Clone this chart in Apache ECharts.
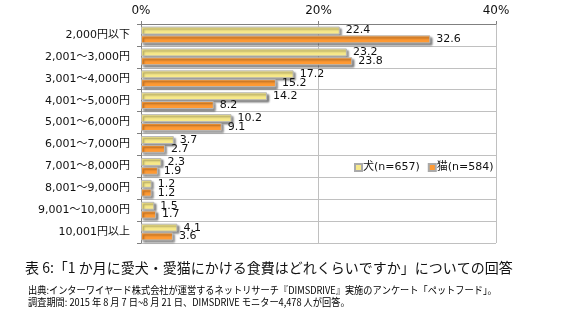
<!DOCTYPE html>
<html>
<head>
<meta charset="utf-8">
<script src="https://cdn.jsdelivr.net/npm/echarts@6/dist/echarts.min.js"></script>
<style>
html, body { margin: 0; padding: 0; background: #fff; }
#main { width: 561px; height: 323px; }
</style>
</head>
<body>
<div id="main"></div>
<script>
// 金額帯
var categories = ['2,000円以下', '2,001～3,000円', '3,001～4,000円', '4,001～5,000円', '5,001～6,000円',
    '6,001～7,000円', '7,001～8,000円', '8,001～9,000円', '9,001～10,000円', '10,001円以上'];
var dogData = [22.4, 23.2, 17.2, 14.2, 10.2, 3.7, 2.3, 1.2, 1.5, 4.1];
var catData = [32.6, 23.8, 15.2, 8.2, 9.1, 2.7, 1.9, 1.2, 1.7, 3.6];
var seriesNames = ['犬(n=657)', '猫(n=584)'];
var xTicks = [0, 20, 40];

var titleText = '表 6:「1 か月に愛犬・愛猫にかける食費はどれくらいですか」についての回答';
var note1 = '出典:インターワイヤード株式会社が運営するネットリサーチ『DIMSDRIVE』実施のアンケート「ペットフード」。';
var note2 = '調査期間: 2015 年 8 月 7 日~8 月 21 日、DIMSDRIVE モニター4,478 人が回答。';

var FONT = 'DejaVu Sans, Noto Sans CJK JP, sans-serif';
var myChart = echarts.init(document.getElementById('main'));

function barStyle(color) {
    return {
        color: color,
        borderColor: '#b8b8b8',
        borderWidth: 1,
        shadowColor: 'rgba(0,0,0,0.45)',
        shadowBlur: 2,
        shadowOffsetX: 2,
        shadowOffsetY: 2
    };
}

var labelStyle = {
    show: true,
    position: 'right',
    distance: 6,
    fontSize: 11,
    fontFamily: FONT,
    color: '#111'
};

var option = {
    animation: false,
    textStyle: { fontFamily: FONT },
    grid: { left: 141, right: 65, top: 24, height: 219 },
    legend: {
        left: 349,
        top: 157,
        itemWidth: 7,
        itemHeight: 7,
        itemGap: 8,
        icon: 'rect',
        itemStyle: { shadowBlur: 0, shadowOffsetX: 0, shadowOffsetY: 0, shadowColor: 'transparent', borderColor: '#aaa' },
        textStyle: { fontSize: 11, color: '#111', fontFamily: FONT, padding: [0, 0, 0, -4] },
        data: seriesNames
    },
    xAxis: {
        type: 'value',
        position: 'top',
        min: xTicks[0],
        max: xTicks[xTicks.length - 1],
        interval: 20,
        axisLine: { show: true, lineStyle: { color: '#808080' } },
        axisTick: { show: true, length: 3, lineStyle: { color: '#808080' } },
        axisLabel: { formatter: '{value}%', fontSize: 12, color: '#111', margin: 7 },
        splitLine: { show: true, lineStyle: { color: '#c0c0c0' } }
    },
    yAxis: {
        type: 'category',
        inverse: true,
        data: categories,
        axisLine: { show: true, lineStyle: { color: '#808080' } },
        axisTick: { show: true, length: 4, lineStyle: { color: '#808080' } },
        axisLabel: { fontSize: 11, color: '#111', margin: 11 },
        splitLine: { show: true, lineStyle: { color: '#c0c0c0' } }
    },
    series: [
        {
            name: seriesNames[0],
            type: 'bar',
            data: dogData,
            barWidth: 8,
            barGap: '10%',
            itemStyle: barStyle('#f7e98a'),
            label: labelStyle
        },
        {
            name: seriesNames[1],
            type: 'bar',
            data: catData,
            barWidth: 8,
            itemStyle: barStyle('#ff9a33'),
            label: labelStyle
        }
    ],
    graphic: [
        {
            type: 'text', left: 25, top: 261,
            style: { text: titleText, fontSize: 14, fontFamily: 'Noto Sans CJK JP', fill: '#111' }
        },
        {
            type: 'text', left: 28, top: 285, scaleX: 0.92,
            style: { text: note1, fontSize: 10, fontFamily: 'Noto Sans CJK JP', fill: '#000' }
        },
        {
            type: 'text', left: 28, top: 297, scaleX: 0.92,
            style: { text: note2, fontSize: 10, fontFamily: 'Noto Sans CJK JP', fill: '#000' }
        }
    ]
};

// 使用刚指定的配置项和数据显示图表。
myChart.setOption(option);
</script>
</body>
</html>
